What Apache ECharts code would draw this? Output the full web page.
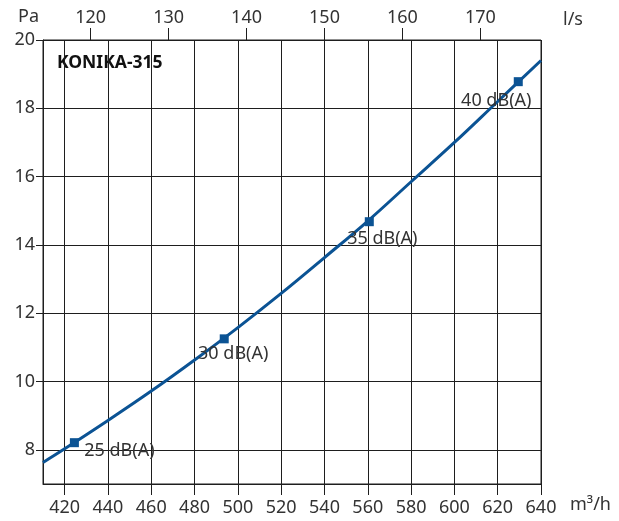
<!DOCTYPE html>
<html>
<head>
<meta charset="utf-8">
<script src="https://cdn.jsdelivr.net/npm/echarts@6/dist/echarts.min.js"></script>
<style>
html,body{margin:0;padding:0;background:#fff;}
#c{width:619px;height:521px;}
</style>
</head>
<body>
<div id="c"></div>
<script>
// ---- data ----
const flowM3h = [410, 420, 440, 460, 480, 500, 520, 540, 560, 580, 600, 620, 640];
const pressurePa = [7.63, 8.03, 8.86, 9.72, 10.63, 11.58, 12.58, 13.63, 14.7, 15.85, 17.0, 18.2, 19.4];
const noiseFlow = [424.5, 493.7, 560.7, 629.5];
const noisePa = [8.21, 11.25, 14.68, 18.78];
const noiseLabels = ['25 dB(A)', '30 dB(A)', '35 dB(A)', '40 dB(A)'];
const xTicks = [420, 440, 460, 480, 500, 520, 540, 560, 580, 600, 620, 640];
const topTicks = [120, 130, 140, 150, 160, 170];
const yTicks = [8, 10, 12, 14, 16, 18, 20];
const title = 'KONIKA-315';

const FONT = '"Noto Sans", "Open Sans", sans-serif';
const TXT = '#333';
const GRID = '#1e1e1e';
const BLUE = '#0b5394';

const labelOffsets = [[45, 8], [9, 15], [13, 17], [-22, 19]];

const chart = echarts.init(document.getElementById('c'), null, {renderer: 'canvas'});
chart.setOption({
  animation: false,
  backgroundColor: '#fff',
  grid: {left: 43, right: 78, top: 40, bottom: 37, show: true, borderColor: GRID, borderWidth: 1, backgroundColor: 'transparent'},
  xAxis: [
    {
      type: 'value', position: 'bottom', min: 410, max: 640,
      axisLine: {show: true, lineStyle: {color: GRID, width: 1}},
      axisTick: {show: true, inside: false, length: 11, customValues: xTicks, lineStyle: {color: GRID}},
      axisLabel: {customValues: xTicks, margin: 15, fontFamily: FONT, fontSize: 18, color: TXT},
      splitLine: {show: true, lineStyle: {color: GRID, width: 1}}
    },
    {
      type: 'value', position: 'top', min: 410 / 3.6, max: 640 / 3.6,
      axisLine: {show: true, lineStyle: {color: GRID, width: 1}},
      axisTick: {show: true, inside: false, length: 12, customValues: topTicks, lineStyle: {color: GRID}},
      axisLabel: {customValues: topTicks, margin: 13, fontFamily: FONT, fontSize: 18, color: TXT},
      splitLine: {show: false}
    }
  ],
  yAxis: [{
    type: 'value', min: 7, max: 20,
    axisLine: {show: true, lineStyle: {color: GRID, width: 1}},
    axisTick: {show: true, inside: false, length: 7, customValues: yTicks, lineStyle: {color: GRID}},
    axisLabel: {customValues: yTicks, margin: 8, fontFamily: FONT, fontSize: 18, color: TXT},
    splitLine: {show: true, lineStyle: {color: GRID, width: 1}}
  }],
  graphic: [
    {type: 'text', left: 18, top: 8, style: {text: 'Pa', font: '18px ' + FONT, fill: TXT}},
    {type: 'text', left: 563, top: 11, style: {text: 'l/s', font: '18px ' + FONT, fill: TXT}},
    {type: 'text', left: 570, top: 496, style: {text: 'm³/h', font: '18px ' + FONT, fill: TXT}},
    {type: 'text', left: 57, top: 54, style: {text: title, font: 'bold 17.5px ' + FONT, fill: '#111'}}
  ],
  series: [
    {
      type: 'line', xAxisIndex: 0, yAxisIndex: 0, smooth: 0.4, showSymbol: false,
      lineStyle: {color: BLUE, width: 3}, z: 3,
      data: flowM3h.map((x, i) => [x, pressurePa[i]])
    },
    {
      type: 'scatter', xAxisIndex: 0, yAxisIndex: 0, symbol: 'rect', symbolSize: 9,
      itemStyle: {color: BLUE, opacity: 1}, z: 4,
      data: noiseFlow.map((x, i) => ({
        value: [x, noisePa[i]],
        label: {
          show: true, formatter: noiseLabels[i], position: 'inside', offset: labelOffsets[i],
          fontFamily: FONT, fontSize: 18, color: TXT
        }
      }))
    }
  ]
});
</script>
</body>
</html>
